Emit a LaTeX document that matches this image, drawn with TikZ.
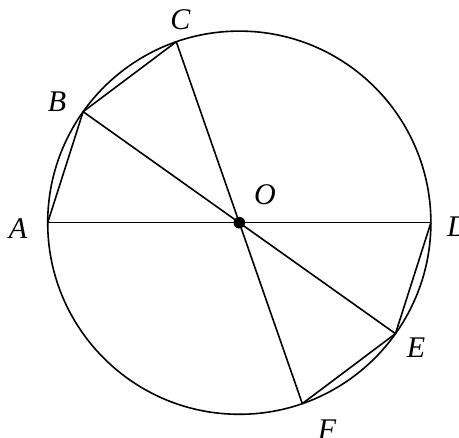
\documentclass[tikz,border=0pt]{standalone}
\usepackage{fontspec}
\setmainfont{Liberation Serif}
\begin{document}
\begin{tikzpicture}[x=1pt,y=-1pt,
  geo/.style={line width=1.6pt,black},
  ptlabel/.style={inner sep=0pt,font=\fontsize{30}{30}\selectfont\itshape}]
\useasboundingbox (0,0) rectangle (459,438);
\coordinate (O) at (239.3,222.7);
\def\R{191.6}
\path (O) ++(180:\R) coordinate (A);
\path (O) ++(0:\R) coordinate (D);
\path (O) ++(-144.6:\R) coordinate (B);
\path (O) ++(-109.2:\R) coordinate (C);
\path (O) ++(35.4:\R) coordinate (E);
\path (O) ++(70.8:\R) coordinate (F);
\draw[geo] (O) circle (\R);
\draw[geo] (A) -- (D);
\draw[geo] (B) -- (E);
\draw[geo] (C) -- (F);
\draw[geo] (A) -- (B) -- (C);
\draw[geo] (D) -- (E) -- (F);
\fill (O) circle (5.8);
\node[ptlabel] (lA) at (18,228.5) {A};
\node[ptlabel] (lB) at (57,102) {B};
\node[ptlabel] (lC) at (180.5,20) {C};
\node[ptlabel] (lD) at (458,227) {D};
\node[ptlabel] (lE) at (416,348) {E};
\node[ptlabel] (lF) at (327,429.5) {F};
\node[ptlabel] (lO) at (265,194.5) {O};
\end{tikzpicture}
\end{document}
